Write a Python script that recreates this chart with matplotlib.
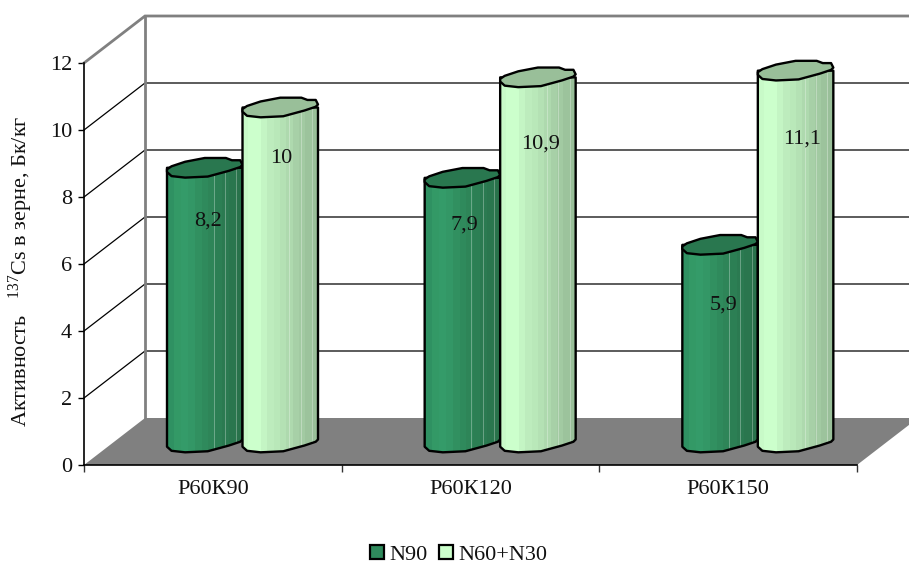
import numpy as np
import matplotlib
matplotlib.use('Agg')
import matplotlib.pyplot as plt
from matplotlib.patches import Polygon, Patch

plt.rcParams['font.family'] = ['Liberation Serif', 'DejaVu Serif']
plt.rcParams['mathtext.fontset'] = 'custom'
plt.rcParams['mathtext.rm'] = 'Liberation Serif'
plt.rcParams['mathtext.default'] = 'regular'

categories = ['Р60К90', 'Р60К120', 'Р60К150']
n90 = [8.2, 7.9, 5.9]
n60_n30 = [10, 10.9, 11.1]
n90_labels = ['8,2', '7,9', '5,9']
n60_n30_labels = ['10', '10,9', '11,1']
y_ticks = [0, 2, 4, 6, 8, 10, 12]

# label placement: drop below the cylinder top and sideways shift, both in pixels
n90_label_pos = [(53, 3), (47, 2), (60, 3)]
n60_n30_label_pos = [(51, 1), (67, 3), (68, 7)]

# axes box in pixels
W, H = 909, 563
LEFT, RIGHT, TOP, BOTTOM = 84, 857, 63, 465
px_x = (RIGHT - LEFT) / 3
px_y = (BOTTOM - TOP) / 12

# depth of the box in data units
depth_x = 61 / px_x
depth_y = 47 / px_y

bar_start = 83 / px_x
bar_w = 75.5 / px_x
y_base = depth_y / 2 - 1 / px_y  # cylinders stand mid-way across the floor

# wobbly outline of a cylinder cap, (across, up) in bar widths
cap_u = [0, .06, .24, .50, .78, .86, .97, 1.0, .97, .82, .54, .24, .06, 0]
cap_v = [-.02, .02, .08, .13, .13, .10, .10, .04, .01, -.04, -.116, -.13, -.11, -.056]
cap_u, cap_v = np.array(cap_u), np.array(cap_v)
lower = 7  # index where the lower half of the cap starts

dark_bands = ['#2f9162', '#339966', '#349b69', '#339766', '#319060', '#2f8a5c',
              '#2e8558', '#2c7f54', '#2b7a51', '#2a764e', '#29724b']
light_bands = ['#c8fac8', '#ccffcc', '#ccffcc', '#c4f5c4', '#bdecbd', '#b9e8b9',
               '#b4e1b4', '#aed9ae', '#a7d0a7', '#a2caa2', '#9cc39c', '#99bf99']
dark_top = '#29774f'
light_top = '#99bf99'
sheen_at = [.62, .77, .92]  # thin pale streaks on the shaded side


def draw_cylinder(ax, x0, value, bands, top_color, z):
    xs = x0 + cap_u * bar_w
    dy = cap_v * bar_w * px_x / px_y
    y_top = value + y_base

    # side: straight edges joined by the lower half of the base outline
    body_x = np.concatenate([[x0, x0 + bar_w], xs[lower:]])
    body_y = np.concatenate([[y_top, y_top], y_base + dy[lower:]])
    body = Polygon(np.column_stack([body_x, body_y]), closed=True, facecolor='none',
                   edgecolor='black', lw=1.7, joinstyle='round', clip_on=False, zorder=z + 0.2)
    ax.add_patch(body)

    rgb = np.array([[matplotlib.colors.to_rgb(c) for c in bands]])
    img = ax.imshow(rgb, extent=(x0, x0 + bar_w, y_base - 1, y_top + 1), aspect='auto',
                    interpolation='nearest', zorder=z + 0.1)
    img.set_clip_path(body)

    for u in sheen_at:
        streak = ax.plot([x0 + u * bar_w] * 2, [y_base - 1, y_top + 1], color='white', lw=0.7,
                         alpha=0.3, zorder=z + 0.15)[0]
        streak.set_clip_path(body)

    ax.add_patch(Polygon(np.column_stack([xs, y_top + dy]), closed=True, facecolor=top_color,
                         edgecolor='black', lw=1.7, joinstyle='round', clip_on=False, zorder=z + 0.3))


fig = plt.figure(figsize=(W / 100, H / 100), dpi=100)
ax = fig.add_axes([LEFT / W, 1 - BOTTOM / H, (RIGHT - LEFT) / W, (BOTTOM - TOP) / H])
ax.patch.set_visible(False)
for s in ['top', 'right']:
    ax.spines[s].set_visible(False)
for s in ['left', 'bottom']:
    ax.spines[s].set_linewidth(1.2)

# floor
ax.add_patch(Polygon([(0, 0), (3, 0), (3 + depth_x, depth_y), (depth_x, depth_y)], closed=True,
                     facecolor='#808080', edgecolor='none', clip_on=False, zorder=1))

# gridlines on the side and back walls
for t in y_ticks[1:-1]:
    ax.plot([0, depth_x, 3 + depth_x], [t, t + depth_y, t + depth_y], color='black', lw=0.9,
            clip_on=False, zorder=1.5, solid_joinstyle='miter')

# wall frame
ax.plot([0, depth_x, 3 + depth_x], [12, 12 + depth_y, 12 + depth_y], color='#808080', lw=2,
        clip_on=False, zorder=2, solid_joinstyle='miter')
ax.plot([depth_x, depth_x], [depth_y, 12 + depth_y], color='#808080', lw=2, clip_on=False, zorder=2)

for i in range(3):
    x1 = i + bar_start
    x2 = x1 + bar_w
    draw_cylinder(ax, x1, n90[i], dark_bands, dark_top, 3 + 2 * i)
    draw_cylinder(ax, x2, n60_n30[i], light_bands, light_top, 4 + 2 * i)

    drop, shift = n90_label_pos[i]
    ax.text(x1 + bar_w / 2 + shift / px_x, n90[i] + y_base - drop / px_y, n90_labels[i],
            ha='center', va='center', fontsize=16, color='#111111', zorder=20)
    drop, shift = n60_n30_label_pos[i]
    ax.text(x2 + bar_w / 2 + shift / px_x, n60_n30[i] + y_base - drop / px_y, n60_n30_labels[i],
            ha='center', va='center', fontsize=16, color='#111111', zorder=20)

ax.set_xlim(0, 3)
ax.set_ylim(0, 12)
ax.set_yticks(y_ticks)
ax.set_xticks([0, 1, 2, 3])
ax.set_xticklabels([])
ax.set_xticks([0.5, 1.5, 2.5], categories, minor=True)
ax.tick_params(axis='x', which='major', length=5, width=1, color='#333333')
ax.tick_params(axis='x', which='minor', length=0, pad=11, labelsize=16, labelcolor='#111111')
ax.tick_params(axis='y', length=4, width=1, pad=4.5, labelsize=16, labelcolor='#111111')

fig.text(21 / W, 1 - 271 / H, 'Активность   $^{137}$Cs в зерне, Бк/кг', rotation=90,
         ha='center', va='center', fontsize=16, color='#111111')

handles = [Patch(facecolor='#2f8a5c', edgecolor='black', lw=1.6, label='N90'),
           Patch(facecolor='#ccffcc', edgecolor='black', lw=1.6, label='N60+N30')]
fig.legend(handles=handles, ncol=2, frameon=False, loc='center', bbox_to_anchor=(459 / W, 1 - 555 / H),
           fontsize=16, labelcolor='#111111', handlelength=0.62, handleheight=0.62, handletextpad=0.25,
           columnspacing=0.5, borderpad=0, borderaxespad=0)

fig.savefig('out.png', dpi=100)
